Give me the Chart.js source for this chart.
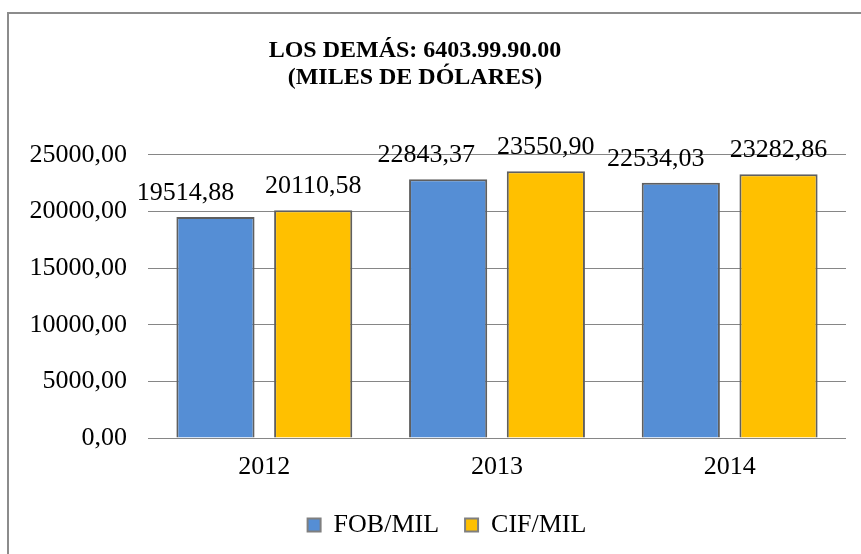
<!DOCTYPE html>
<html><head><meta charset="utf-8">
<script src="https://cdn.jsdelivr.net/npm/chart.js@4.4.1/dist/chart.umd.min.js"></script>
<style>html,body{margin:0;padding:0;background:#fff}#wrap{width:861px;height:554px}</style>
</head><body><div id="wrap"><canvas id="c" width="861" height="554"></canvas></div>
<script>
const categories = ['2012', '2013', '2014'];
const fobValues = [19514.88, 22843.37, 22534.03];
const cifValues = [20110.58, 23550.90, 23282.86];
const seriesNames = ['FOB/MIL', 'CIF/MIL'];
const titleLines = ['LOS DEMÁS: 6403.99.90.00', '(MILES DE DÓLARES)'];
const yTicks = [0, 5000, 10000, 15000, 20000, 25000];

const fmt = v => v.toFixed(2).replace('.', ',');
const FONT = "'Liberation Serif', 'Times New Roman', serif";

const framePlugin = {
  id: 'frame',
  afterLayout(chart) {
    // nudge title and legend horizontally like the original
    if (chart.titleBlock) { chart.titleBlock.left -= 12; chart.titleBlock.right -= 12; }
    if (chart.legend) { chart.legend.left += 20; chart.legend.right += 20; }
  },
  beforeDraw(chart) {
    const ctx = chart.ctx;
    ctx.save();
    ctx.fillStyle = '#fff';
    ctx.fillRect(0, 0, chart.width, chart.height);
    ctx.strokeStyle = '#8c8c8c';
    ctx.lineWidth = 2;
    ctx.strokeRect(8, 13, chart.width + 20, chart.height + 20);
    ctx.restore();
  }
};

const labelPlugin = {
  id: 'valueLabels',
  afterDatasetsDraw(chart, args, opts) {
    const ctx = chart.ctx;
    ctx.save();
    ctx.font = '26px ' + FONT;
    ctx.fillStyle = '#000';
    ctx.textAlign = 'center';
    ctx.textBaseline = 'alphabetic';
    chart.data.datasets.forEach((ds, i) => {
      const meta = chart.getDatasetMeta(i);
      const offs = (opts.offsets || [])[i] || [];
      meta.data.forEach((bar, j) => {
        ctx.fillText(fmt(ds.data[j]), bar.x + (offs[j] || 0), bar.y - 17);
      });
    });
    ctx.restore();
  }
};

new Chart(document.getElementById('c'), {
  type: 'bar',
  data: {
    labels: categories,
    datasets: [
      { label: seriesNames[0], data: fobValues, backgroundColor: '#558ED5', borderColor: '#5f5f5f', borderWidth: 2 },
      { label: seriesNames[1], data: cifValues, backgroundColor: '#FFC000', borderColor: '#5f5f5f', borderWidth: 2 }
    ]
  },
  options: {
    responsive: false,
    animation: false,
    devicePixelRatio: 1,
    layout: { padding: { left: 8, right: 15, top: 0, bottom: 6 } },
    datasets: { bar: { categoryPercentage: 0.84, barPercentage: 0.8 } },
    plugins: {
      valueLabels: { offsets: [[-30, -22, -25], [0, 0, 0]] },
      title: {
        display: true,
        text: titleLines,
        color: '#000',
        font: { family: FONT, size: 24, weight: 'bold', lineHeight: 1.12 },
        padding: { top: 37, bottom: 64 }
      },
      legend: {
        position: 'bottom',
        labels: {
          color: '#000',
          font: { family: FONT, size: 26 },
          boxWidth: 13,
          boxHeight: 13,
          padding: 26,
          generateLabels(chart) {
            return chart.data.datasets.map((ds, i) => ({
              text: ds.label, fillStyle: ds.backgroundColor, strokeStyle: '#7f7f7f',
              lineWidth: 2, datasetIndex: i, hidden: false, fontColor: '#000'
            }));
          }
        }
      },
      tooltip: { enabled: false }
    },
    scales: {
      x: {
        grid: { display: false },
        border: { display: false },
        afterFit(scale) { scale.height = 48; },
        ticks: { color: '#000', font: { family: FONT, size: 26 }, padding: 6 }
      },
      y: {
        min: 0, max: 25000,
        afterBuildTicks(scale) { scale.ticks = yTicks.map(v => ({ value: v })); },
        afterFit(scale) { scale.width = 140; },
        grid: { color: '#868686', lineWidth: 1, drawTicks: false },
        border: { display: false },
        ticks: { color: '#000', font: { family: FONT, size: 26 }, padding: 21, callback: v => fmt(v) }
      }
    }
  },
  plugins: [framePlugin, labelPlugin]
});
</script></body></html>
